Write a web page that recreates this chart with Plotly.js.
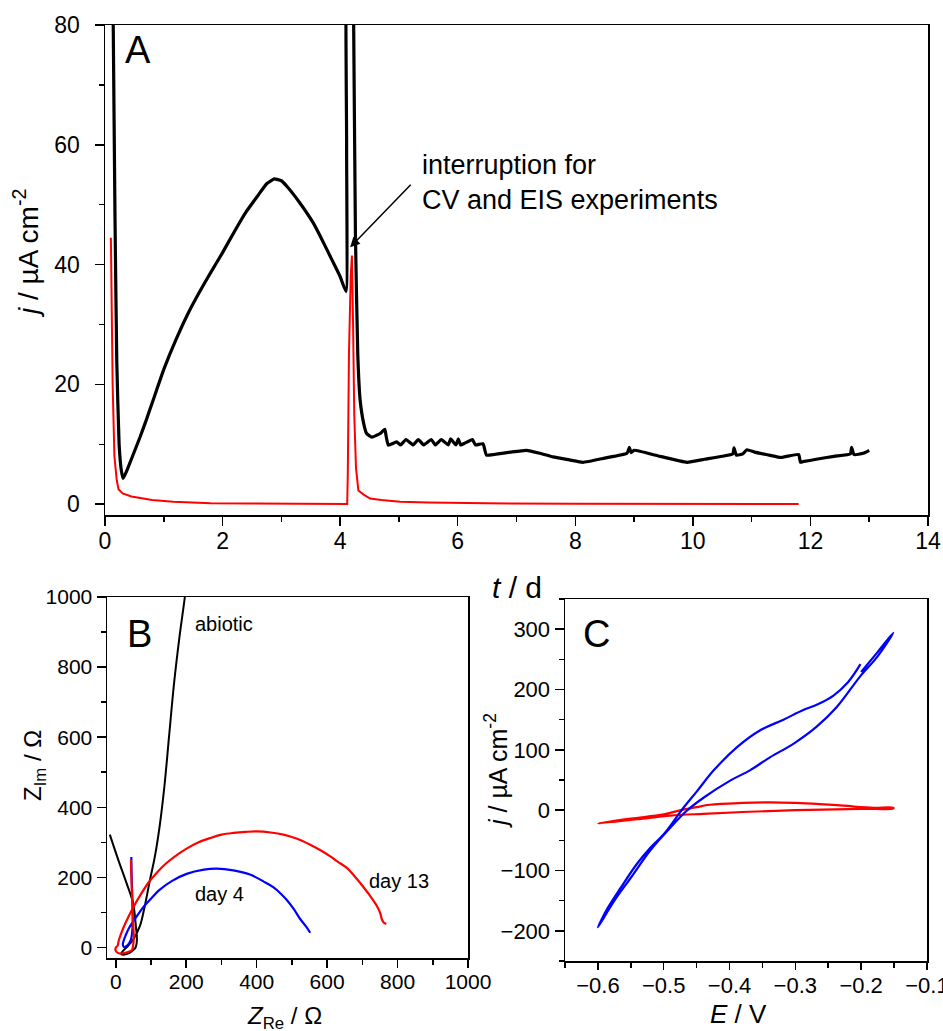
<!DOCTYPE html>
<html>
<head>
<meta charset="utf-8">
<script src="https://cdn.plot.ly/plotly-3.0.1.min.js"></script>
<style>html,body{margin:0;padding:0;background:#fff;}#chart{width:943px;height:1031px;}</style>
</head>
<body>
<div id="chart"></div>
<script>
// ---- Panel A: current density vs time ----
const tBlack = [0.12,0.14,0.17,0.20,0.24,0.28,0.31,0.40,0.50,0.60,0.70,0.82,1.00,1.20,1.40,1.60,1.80,2.00,2.20,2.40,2.60,2.75,2.88,3.00,3.10,3.30,3.54,3.70,3.85,4.00,4.10,4.11,4.13,4.20,4.23,4.26,4.30,4.34,4.40,4.45,4.54,4.62,4.68,4.76,4.78,4.82,4.96,5.03,5.12,5.24,5.33,5.42,5.55,5.62,5.72,5.84,5.88,5.97,6.01,6.05,6.12,6.25,6.30,6.43,6.49,6.72,6.90,7.17,7.40,7.62,7.90,8.13,8.50,8.88,8.92,8.95,9.00,9.40,9.90,10.20,10.50,10.68,10.70,10.74,10.85,10.92,11.05,11.30,11.50,11.80,11.83,11.87,12.10,12.40,12.68,12.70,12.74,12.90,13.00];
const jBlack = [100,80,48,24,10,5.5,4.3,6.3,8.8,11.3,14.0,17.4,22.5,27.3,31.6,35.3,38.7,42.0,45.5,48.8,51.5,53.5,54.3,54.0,53.0,50.5,47.0,44.0,41.0,38.0,35.5,60,100,100,80,45,25,17.4,13.5,11.8,11.2,11.5,11.8,12.5,11.5,9.85,10.4,9.9,10.8,9.9,10.8,9.9,10.8,9.9,10.8,9.9,10.9,9.9,10.9,9.9,10.2,10.8,9.9,10.1,8.2,8.46,8.7,9.0,8.5,7.9,7.4,7.0,7.7,8.5,9.5,8.6,9.0,8.1,7.0,7.5,8.0,8.4,9.4,8.2,8.4,9.1,8.7,8.2,7.8,8.3,7.0,7.1,7.5,8.0,8.4,9.5,8.3,8.5,9.0];
const tRed = [0.10,0.11,0.13,0.16,0.20,0.23,0.30,0.45,0.60,0.80,1.16,1.80,2.50,3.50,4.12,4.13,4.15,4.18,4.20,4.22,4.24,4.27,4.31,4.40,4.51,4.70,5.02,5.50,6.50,8.00,10.00,11.80];
const jRed = [44.5,35,20,8,4,2.5,1.8,1.3,1.0,0.7,0.4,0.17,0.12,0.08,0.05,5,25,38,41.5,30,15,6,2.3,1.6,0.95,0.7,0.4,0.3,0.15,0.08,0.06,0.05];

// ---- Panel B: Nyquist plots ----
const zReAbiotic = [-17,7,30,49,57,60,56,45,30,21,15,22,35,49,68,82,97,111,125,138,151,165,180,196,199];
const zImAbiotic = [322,250,185,127,60,22,0,-11,-19,-21,-18,-8,5,22,60,117,193,260,350,460,600,750,880,1000,1030];
const zReDay4 = [44,45,47,48,47,42,32,22,20,28,40,59,78,97,125,160,201,250,286,334,381,420,447,470,485,505,523,540,552];
const zImDay4 = [258,200,140,90,50,20,5,2,10,35,60,88,115,136,165,190,210,222,225,220,208,188,172,152,136,110,82,60,42];
const zReDay13 = [43,45,47,49,51,49,46,35,23,10,0,0,5,9,23,37,51,70,92,115,144,175,201,235,267,300,334,370,400,440,476,515,552,580,609,630,656,675,694,720,742,750,756,760,768];
const zImDay13 = [250,180,120,70,31,5,-7,-13,-16,-17,-10,0,5,22,60,90,117,150,184,212,241,265,282,300,312,322,327,330,331,328,322,310,293,278,260,245,227,207,184,150,117,100,79,72,67];

// ---- Panel C: cyclic voltammograms ----
const eBlue = [-0.200,-0.175,-0.151,-0.175,-0.202,-0.237,-0.268,-0.303,-0.338,-0.369,-0.399,-0.439,-0.465,-0.490,-0.520,-0.550,-0.575,-0.600,-0.585,-0.565,-0.540,-0.520,-0.500,-0.470,-0.449,-0.424,-0.389,-0.354,-0.318,-0.288,-0.265,-0.242,-0.220,-0.201];
const jBlue = [229,262,294,255,221,171,138,110,88,66,49,21,-1,-29,-66,-112,-150,-194,-162,-128,-88,-62,-40,4,32,66,104,132,150,166,176,190,212,242];
const eRed = [-0.600,-0.550,-0.500,-0.474,-0.450,-0.430,-0.380,-0.338,-0.300,-0.263,-0.220,-0.202,-0.180,-0.151,-0.151,-0.200,-0.300,-0.380,-0.440,-0.490,-0.540,-0.600];
const jRedCV = [-22,-14,-7,0,5,9,12,13,12,10,7,5,4,4,3,2,0,-3,-6,-9,-15,-22];

const FONT = 'Liberation Sans, Arial, sans-serif';
const W = 943, H = 1031;
const px = v => v / W;
const py = v => 1 - v / H;

function axis(extra, minorDtick) {
  return Object.assign({
    showline: true, linecolor: '#000', linewidth: 1.5, mirror: true,
    ticks: 'outside', ticklen: 9, tickwidth: 1.5, tickcolor: '#000',
    showgrid: false, zeroline: false, fixedrange: true,
    ticklabeloverflow: 'allow',
    minor: {ticks: 'outside', ticklen: 5, tickwidth: 1.5, tickcolor: '#000', showgrid: false, dtick: minorDtick}
  }, extra);
}

const traces = [
  {x: tBlack, y: jBlack, type: 'scatter', mode: 'lines', line: {color: '#000', width: 3.2, shape: 'spline', smoothing: 0.4}, xaxis: 'x', yaxis: 'y', name: 'biotic'},
  {x: tRed, y: jRed, type: 'scatter', mode: 'lines', line: {color: '#ff0000', width: 2}, xaxis: 'x', yaxis: 'y', name: 'abiotic'},
  {x: zReAbiotic, y: zImAbiotic, type: 'scatter', mode: 'lines', line: {color: '#000', width: 2, shape: 'spline'}, xaxis: 'x2', yaxis: 'y2', name: 'abiotic'},
  {x: zReDay4, y: zImDay4, type: 'scatter', mode: 'lines', line: {color: '#0000ff', width: 2.2, shape: 'spline'}, xaxis: 'x2', yaxis: 'y2', name: 'day 4'},
  {x: zReDay13, y: zImDay13, type: 'scatter', mode: 'lines', line: {color: '#ff0000', width: 2.2, shape: 'spline'}, xaxis: 'x2', yaxis: 'y2', name: 'day 13'},
  {x: eRed, y: jRedCV, type: 'scatter', mode: 'lines', line: {color: '#ff0000', width: 2.2, shape: 'spline'}, xaxis: 'x3', yaxis: 'y3', name: 'abiotic CV'},
  {x: eBlue, y: jBlue, type: 'scatter', mode: 'lines', line: {color: '#0000ff', width: 2.2, shape: 'spline'}, xaxis: 'x3', yaxis: 'y3', name: 'biotic CV'}
];

function txt(text, x, y, size, extra) {
  return Object.assign({text: text, xref: 'paper', yref: 'paper', x: px(x), y: py(y),
    xanchor: 'center', yanchor: 'middle', showarrow: false,
    font: {family: FONT, size: size, color: '#000'}}, extra || {});
}

const layout = {
  width: W, height: H,
  margin: {l: 0, r: 0, t: 0, b: 0},
  paper_bgcolor: '#fff', plot_bgcolor: '#fff',
  showlegend: false,
  xaxis: axis({domain: [px(105), px(928)], anchor: 'y', range: [0, 14], dtick: 2, tick0: 0,
    ticklabelstandoff: -4,
    tickfont: {family: FONT, size: 23, color: '#000'}}, 1),
  yaxis: axis({domain: [py(515), py(25)], anchor: 'x', range: [-1.8, 80], dtick: 20, tick0: 0,
    ticklabelstandoff: 10,
    tickfont: {family: FONT, size: 23, color: '#000'}}, 10),
  xaxis2: axis({domain: [px(107), px(468)], anchor: 'y2', range: [-25, 1000], dtick: 200, tick0: 0,
    ticklen: 8, ticklabelstandoff: -4,
    tickfont: {family: FONT, size: 21, color: '#000'}}, 100),
  yaxis2: axis({domain: [py(958), py(597)], anchor: 'x2', range: [-30, 1000], dtick: 200, tick0: 0,
    tickfont: {family: FONT, size: 21, color: '#000'}}, 100),
  xaxis3: axis({domain: [px(565), px(927)], anchor: 'y3', range: [-0.65, -0.0999], dtick: 0.1, tick0: -0.6,
    ticklen: 7, ticklabelstandoff: -3,
    tickfont: {family: FONT, size: 22, color: '#000'}}, 0.05),
  yaxis3: axis({domain: [py(961), py(599)], anchor: 'x3', range: [-250, 350], dtick: 100, tick0: 0,
    tickfont: {family: FONT, size: 22, color: '#000'}}, 50),
  annotations: [
    txt('A', 138, 50, 38),
    txt('B', 139, 634, 38),
    txt('C', 596, 634, 38),
    txt('abiotic', 224, 624, 20),
    txt('day 4', 219, 894, 20),
    txt('day 13', 399, 881, 20),
    txt('<i>t</i> / d', 517, 587, 30),
    txt('interruption for<br>CV and EIS experiments', 420, 183, 27, {xanchor: 'left', align: 'left'}),
    txt('<i>j</i> / µA cm<sup>-2</sup>', 26, 254, 28, {textangle: -90}),
    txt('Z<sub>Im</sub> / Ω', 34, 766, 24, {textangle: -90}),
    txt('<i>Z</i><sub>Re</sub> / Ω', 284, 1017, 24),
    txt('<i>j</i> / µA cm<sup>-2</sup>', 496, 771, 25, {textangle: -90}),
    txt('<i>E</i> / V', 738, 1014, 26),
    {x: 4.17, y: 42.9, xref: 'x', yref: 'y', text: '', showarrow: true,
     ax: 62, ay: -64, axref: 'pixel', ayref: 'pixel',
     arrowhead: 2, arrowsize: 1.3, arrowwidth: 1.5, arrowcolor: '#000'}
  ]
};

Plotly.newPlot('chart', traces, layout, {staticPlot: true, displayModeBar: false});
</script>
</body>
</html>
